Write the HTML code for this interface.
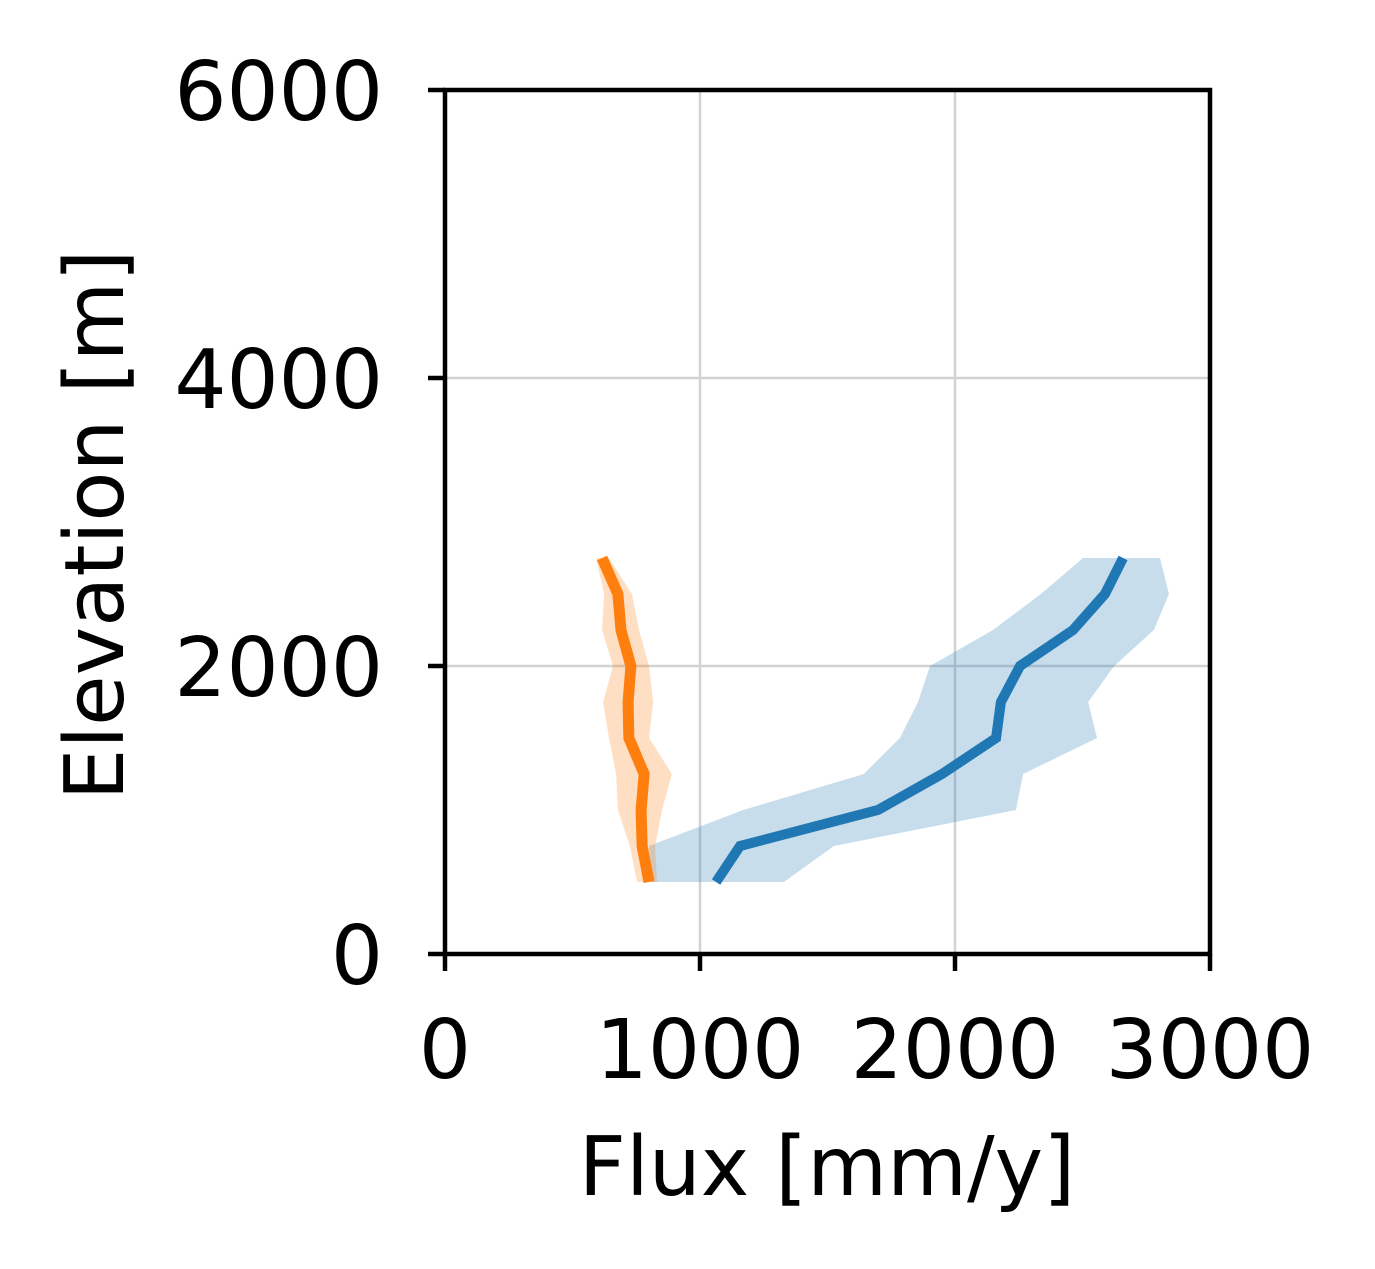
<!DOCTYPE html>
<html><head><meta charset="utf-8"><style>
html,body{margin:0;padding:0;background:#fff;}
svg{display:block;font-family:"DejaVu Sans","Liberation Sans",sans-serif;}
</style></head><body>
<svg id="chart" width="1375" height="1269"></svg>
<script>
const elevations=[500,750,1000,1250,1500,1750,2000,2250,2500,2750];
const blueMedian=[1063,1157,1698,1949,2161,2180,2255,2463,2588,2659];
const blueLower=[810,800,1169,1643,1784,1855,1902,2149,2337,2502];
const blueUpper=[1329,1525,2239,2267,2557,2522,2624,2780,2839,2804];
const orangeMedian=[800,773,769,781,721,718,729,690,678,616];
const orangeLower=[753,725,678,671,643,620,659,616,624,592];
const orangeUpper=[831,824,851,890,800,816,800,761,733,643];
const xTicks=[0,1000,2000,3000];
const yTicks=[0,2000,4000,6000];

const NS="http://www.w3.org/2000/svg";
const svg=document.getElementById('chart');
const X0=445,X1=1210,Y0=954,Y1=90;
const xs=v=>X0+(v/3000)*(X1-X0);
const ys=v=>Y0-(v/6000)*(Y0-Y1);
function mk(tag,attrs,parent){const e=document.createElementNS(NS,tag);for(const k in attrs)e.setAttribute(k,attrs[k]);(parent||svg).appendChild(e);return e;}

xTicks.forEach(t=>{const l=mk('line',{x1:xs(t),x2:xs(t),y1:Y1,y2:Y0,stroke:'#d3d3d3','stroke-width':2.5});

});
yTicks.forEach(t=>{const l=mk('line',{x1:X0,x2:X1,y1:ys(t),y2:ys(t),stroke:'#d3d3d3','stroke-width':2.5});

});

function band(lo,hi,color,name){
  const pts=lo.map((v,i)=>xs(v)+','+ys(elevations[i])).concat(hi.map((v,i)=>xs(v)+','+ys(elevations[i])).reverse());
  const p=mk('polygon',{points:pts.join(' '),fill:color,'fill-opacity':0.25,stroke:'none'});
  
  
}
function line(vals,color,name,w){
  const p=mk('polyline',{points:vals.map((v,i)=>xs(v)+','+ys(elevations[i])).join(' '),fill:'none',stroke:color,'stroke-width':w,'stroke-linejoin':'miter'});
  
  
}
band(blueLower,blueUpper,'#1f77b4','blue-range-band');
band(orangeLower,orangeUpper,'#ff7f0e','orange-range-band');
line(blueMedian,'#1f77b4','blue-median-line',10);
line(orangeMedian,'#ff7f0e','orange-median-line',11);

const fr=mk('rect',{x:X0,y:Y1,width:X1-X0,height:Y0-Y1,fill:'none',stroke:'#000','stroke-width':4.5});



xTicks.forEach(t=>{
  const l=mk('line',{x1:xs(t),x2:xs(t),y1:Y0,y2:Y0+17,stroke:'#000','stroke-width':4.5});
  
  
  const tx=mk('text',{x:xs(t),y:1078,'text-anchor':'middle','font-size':82,fill:'#000'});
  tx.textContent=t;
  
  
});
yTicks.forEach(t=>{
  const l=mk('line',{x1:X0-17,x2:X0,y1:ys(t),y2:ys(t),stroke:'#000','stroke-width':4.5});
  
  
  const tx=mk('text',{x:383,y:ys(t)+30,'text-anchor':'end','font-size':82,fill:'#000'});
  tx.textContent=t;
  
  
});
const xl=mk('text',{x:827,y:1195,'text-anchor':'middle','font-size':82,fill:'#000'});
xl.textContent='Flux [mm/y]';


const yl=mk('text',{x:0,y:0,'text-anchor':'middle','font-size':82,fill:'#000',transform:'translate(123,525) rotate(-90)'});
yl.textContent='Elevation [m]';


</script>
</body></html>
